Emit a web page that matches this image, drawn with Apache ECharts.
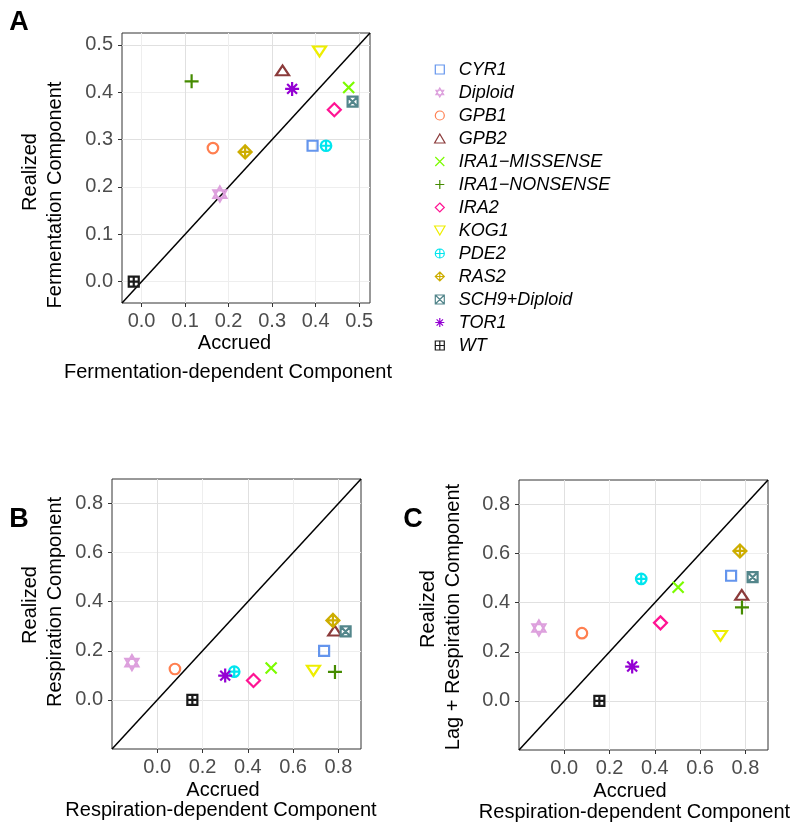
<!DOCTYPE html>
<html>
<head>
<meta charset="utf-8">
<script src="https://cdn.jsdelivr.net/npm/echarts@6/dist/echarts.min.js"></script>
<style>html,body{margin:0;padding:0;background:#fff}#c{width:800px;height:837px}</style>
</head>
<body>
<div id="c"></div>
<script>
// ---- data ----
const genotypes = ['CYR1','Diploid','GPB1','GPB2','IRA1\u2212MISSENSE','IRA1\u2212NONSENSE','IRA2','KOG1','PDE2','RAS2','SCH9+Diploid','TOR1','WT'];
// Panel A: fermentation
const accruedFerm  = [0.393, 0.180, 0.164, 0.324, 0.476, 0.115, 0.443, 0.409, 0.424, 0.238, 0.485, 0.346, -0.018];
const realizedFerm = [0.287, 0.185, 0.282, 0.446, 0.410, 0.423, 0.363, 0.486, 0.287, 0.274, 0.380, 0.407, 0.000];
// Panels B and C: respiration
const accruedResp  = [0.737, -0.112, 0.078, 0.784, 0.503, 0.785, 0.425, 0.690, 0.340, 0.776, 0.832, 0.300, 0.155];
const realizedResp = [0.200, 0.152, 0.126, 0.282, 0.130, 0.114, 0.079, 0.119, 0.115, 0.324, 0.279, 0.099, 0.000];
const realizedLagResp = [0.510, 0.297, 0.276, 0.432, 0.463, 0.381, 0.318, 0.265, 0.497, 0.611, 0.504, 0.140, 0.000];
// axis ranges and tick labels
const rangeA = [-0.045, 0.525];
const rangeBC = [-0.2, 0.9];
const ticksA = [0, 0.1, 0.2, 0.3, 0.4, 0.5];
const ticksBC = [0, 0.2, 0.4, 0.6, 0.8];

// ---- styles ----
const colors = ['#6495ED','#DDA0DD','#FF7F50','#8B3A3A','#7CFC00','#458B00','#FF1493','#EEEE00','#00E5EE','#CDAD00','#53868B','#9400D3','#1A1A1A'];
const shapes = [
  'path://M0,0L20,0L20,20L0,20Z',
  'path://M10,0L18.66,15L1.34,15ZM10,20L18.66,5L1.34,5Z',
  'path://M0,10A10,10,0,1,1,20,10A10,10,0,1,1,0,10Z',
  'path://M10,0L20,17.32L0,17.32Z',
  'path://M0,0L20,20M20,0L0,20',
  'path://M10,0L10,20M0,10L20,10',
  'path://M10,0L20,10L10,20L0,10Z',
  'path://M0,0L20,0L10,17.32Z',
  'path://M0,10A10,10,0,1,1,20,10A10,10,0,1,1,0,10ZM10,0L10,20M0,10L20,10',
  'path://M10,0L20,10L10,20L0,10ZM10,0L10,20M0,10L20,10',
  'path://M0,0L20,0L20,20L0,20ZM0,0L20,20M20,0L0,20',
  'path://M10,0L10,20M0,10L20,10M2.93,2.93L17.07,17.07M17.07,2.93L2.93,17.07',
  'path://M0,0L20,0L20,20L0,20ZM10,0L10,20M0,10L20,10'
];
const sizes = [10, 15, 10.5, [13,11.3], 11, 14, 13, [13,11.3], 10.5, 13, 10, 14, 10];

const FONT = 'Liberation Sans, Arial, Helvetica, sans-serif';
const MAJ = '#E0E0E0', MIN = '#EEEEEE';

function axis(gridIndex, range, ticks, isX, splitColors) {
  const step = range === rangeA ? 0.05 : 0.1;
  return {
    type: 'value', gridIndex, min: range[0], max: range[1],
    splitNumber: 11, minInterval: step, maxInterval: step,
    axisLine: { show: false, onZero: false },
    axisTick: { show: true, customValues: ticks, length: 4, lineStyle: { color: '#333333', width: 1 } },
    axisLabel: { customValues: ticks, formatter: v => (+v).toFixed(1), color: '#4D4D4D', fontSize: 20, fontFamily: FONT, margin: isX ? 8 : 9 },
    splitLine: { show: true, lineStyle: { color: splitColors, width: 1 } },
    minorSplitLine: { show: false }
  };
}

const grids = [
  { left: 122, top: 33, width: 248, height: 270 },
  { left: 112, top: 479, width: 249, height: 270 },
  { left: 519, top: 480, width: 249, height: 270 }
].map(g => Object.assign(g, { show: true, borderColor: '#333333', borderWidth: 1, backgroundColor: '#fff', containLabel: false }));

const xAxes = [axis(0, rangeA, ticksA, true, [MIN, MAJ]), axis(1, rangeBC, ticksBC, true, [MAJ, MIN]), axis(2, rangeBC, ticksBC, true, [MAJ, MIN])];
const yAxes = [axis(0, rangeA, ticksA, false, [MIN, MAJ]), axis(1, rangeBC, ticksBC, false, [MAJ, MIN]), axis(2, rangeBC, ticksBC, false, [MAJ, MIN])];

const series = [];
const panels = [[accruedFerm, realizedFerm, rangeA], [accruedResp, realizedResp, rangeBC], [accruedResp, realizedLagResp, rangeBC]];
panels.forEach((p, pi) => {
  series.push({
    type: 'line', name: 'diag' + pi, xAxisIndex: pi, yAxisIndex: pi, silent: true, symbol: 'none', z: 1,
    data: [[p[2][0], p[2][0]], [p[2][1], p[2][1]]],
    lineStyle: { color: '#000', width: 1.5 }
  });
  genotypes.forEach((g, i) => {
    series.push({
      type: 'scatter', name: g, xAxisIndex: pi, yAxisIndex: pi, z: 3,
      symbol: shapes[i], symbolSize: sizes[i], symbolKeepAspect: true,
      itemStyle: { color: 'rgba(0,0,0,0)', borderColor: colors[i], borderWidth: 2.2, opacity: 1 },
      emphasis: { disabled: true },
      data: [[p[0][i], p[1][i]]]
    });
  });
});

function txt(x, y, s, opts) {
  return { type: 'text', x, y, style: Object.assign({ text: s, fill: '#000', font: '20px ' + FONT, textAlign: 'center', textVerticalAlign: 'middle' }, opts || {}) };
}
function vtxt(x, y, s) {
  const t = txt(x, y, s); t.rotation = Math.PI / 2; return t;
}

const graphic = [
  txt(19, 22.5, 'A', { font: 'bold 27px ' + FONT }),
  txt(19, 520, 'B', { font: 'bold 27px ' + FONT }),
  txt(413, 520, 'C', { font: 'bold 27px ' + FONT }),
  txt(234.5, 343.7, 'Accrued'),
  txt(228, 372, 'Fermentation-dependent Component'),
  txt(223, 790, 'Accrued'),
  txt(221, 810.5, 'Respiration-dependent Component'),
  txt(630, 791, 'Accrued'),
  txt(634.5, 812, 'Respiration-dependent Component'),
  vtxt(30.5, 172, 'Realized'),
  vtxt(55.6, 195, 'Fermentation Component'),
  vtxt(30.5, 605, 'Realized'),
  vtxt(55.6, 602, 'Respiration Component'),
  vtxt(428, 609, 'Realized'),
  vtxt(453, 617, 'Lag + Respiration Component')
];

const chart = echarts.init(document.getElementById('c'), null, { renderer: 'canvas' });
chart.setOption({
  animation: false,
  backgroundColor: '#fff',
  grid: grids,
  xAxis: xAxes,
  yAxis: yAxes,
  legend: {
    data: genotypes, orient: 'vertical', left: 429, top: 55.5,
    itemWidth: 20, itemHeight: 9, itemGap: 5, selectedMode: false,
    itemStyle: { borderWidth: 1.2 },
    textStyle: { fontSize: 18, fontStyle: 'italic', color: '#000', fontFamily: FONT, lineHeight: 18, padding: [0, 0, 0, 4] }
  },
  series,
  graphic
});
</script>
</body>
</html>
